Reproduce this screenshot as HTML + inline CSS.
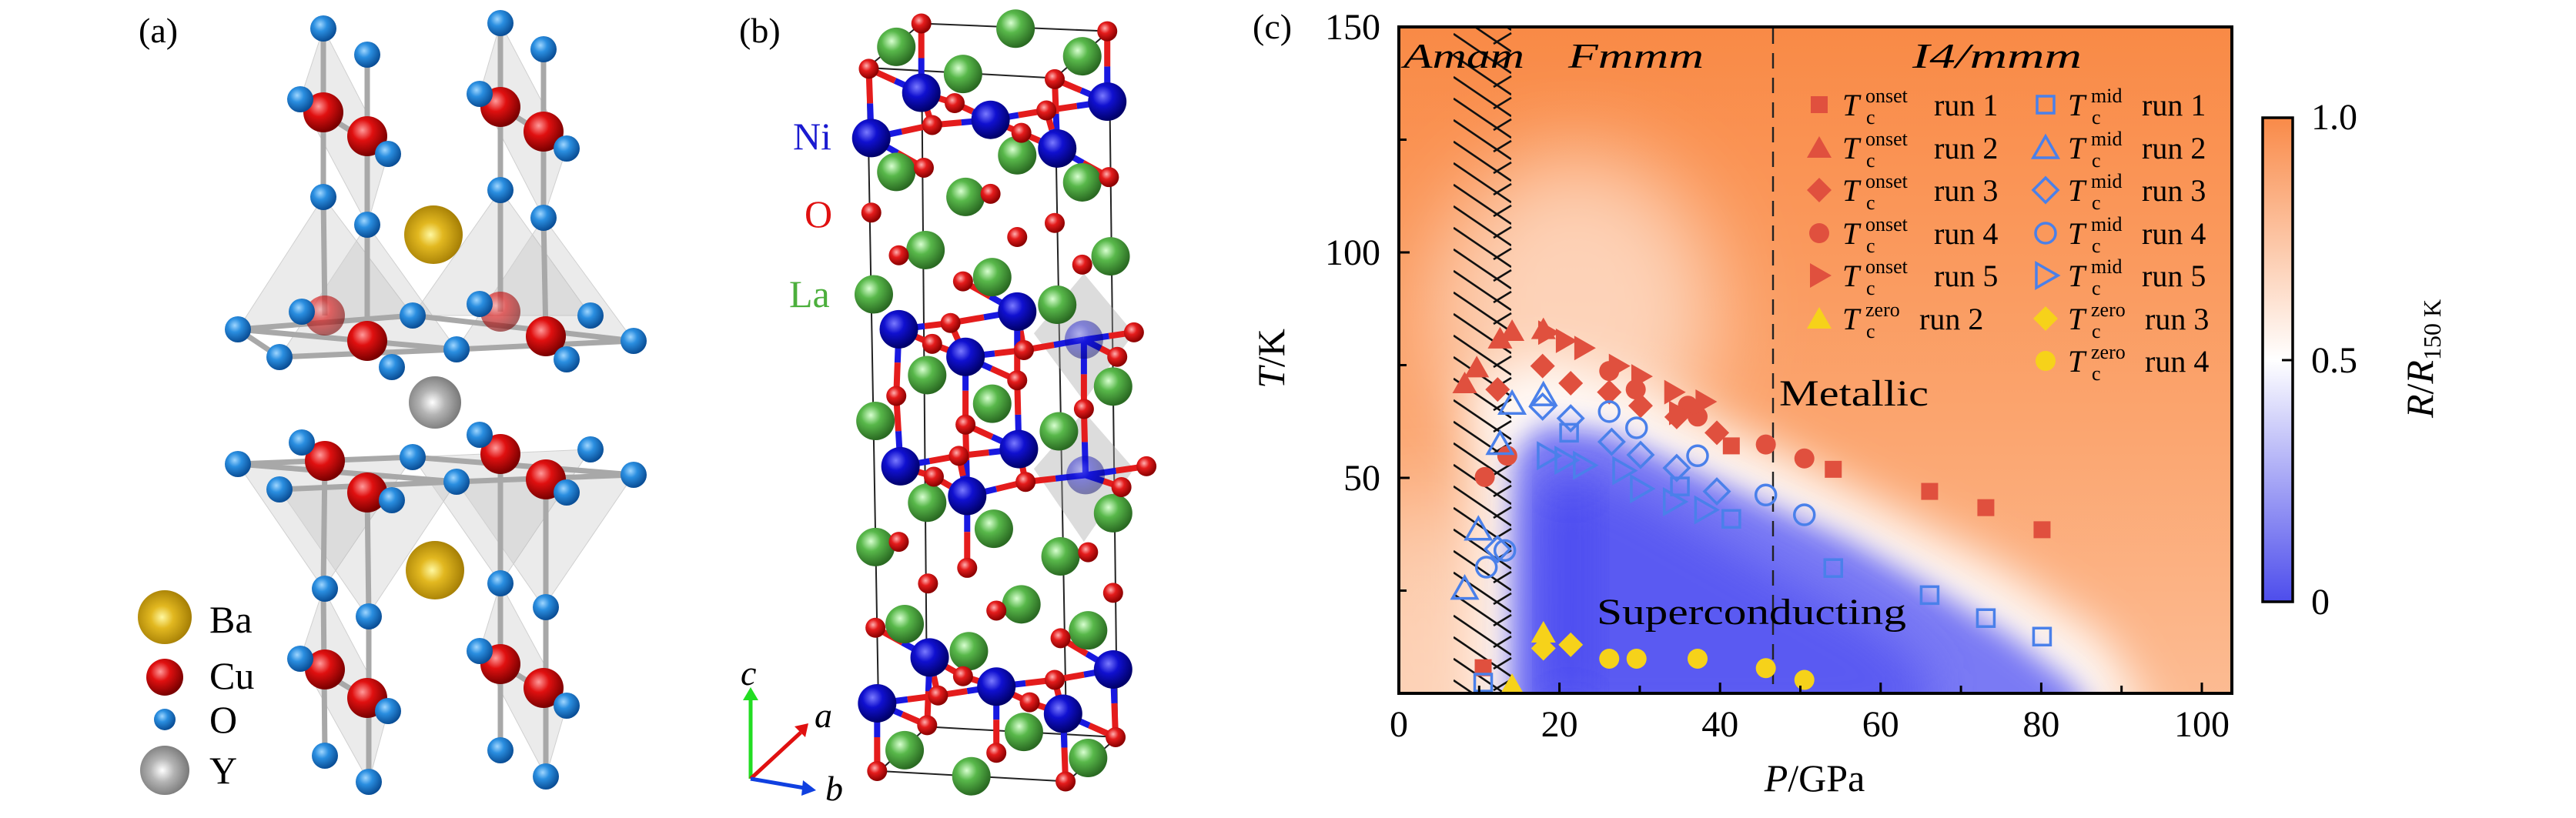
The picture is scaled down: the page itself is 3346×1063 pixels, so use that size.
<!DOCTYPE html>
<html><head><meta charset="utf-8"><style>
html,body{margin:0;padding:0;background:#fff;}
svg{display:block;}
svg text{font-family:"Liberation Serif",serif;}
</style></head><body>
<svg id="s" xmlns="http://www.w3.org/2000/svg" width="3346" height="1063" viewBox="0 0 3346 1063" font-family="Liberation Serif, serif">
<defs>
<linearGradient id="bg" x1="0" y1="0" x2="0" y2="1">
<stop offset="0" stop-color="#f98a46"/><stop offset="0.6" stop-color="#fba56f"/><stop offset="1" stop-color="#fcbb92"/></linearGradient>
<linearGradient id="cb" x1="0" y1="0" x2="0" y2="1">
<stop offset="0" stop-color="#f98a48"/><stop offset="0.5" stop-color="#ffffff"/><stop offset="1" stop-color="#4d4dec"/></linearGradient>
<filter id="b1" x="-50%" y="-50%" width="200%" height="200%"><feGaussianBlur stdDeviation="30"/></filter>
<filter id="b2" x="-50%" y="-50%" width="200%" height="200%"><feGaussianBlur stdDeviation="18"/></filter>
<filter id="b3" x="-50%" y="-50%" width="200%" height="200%"><feGaussianBlur stdDeviation="55"/></filter>
<clipPath id="pc"><rect x="1817" y="35" width="1082" height="866"/></clipPath>
<clipPath id="hc"><rect x="1888" y="35" width="75" height="866"/></clipPath>
<radialGradient id="gO" cx="0.38" cy="0.35" r="0.65"><stop offset="0" stop-color="#9fd6ff"/><stop offset="0.4" stop-color="#2a8ee0"/><stop offset="1" stop-color="#0a4e96"/></radialGradient>
<radialGradient id="gCu" cx="0.38" cy="0.35" r="0.65"><stop offset="0" stop-color="#ff9a9a"/><stop offset="0.4" stop-color="#e01010"/><stop offset="1" stop-color="#7a0000"/></radialGradient>
<radialGradient id="gBa" cx="0.45" cy="0.5" r="0.6"><stop offset="0" stop-color="#fff8a0"/><stop offset="0.35" stop-color="#e2b820"/><stop offset="1" stop-color="#9a7400"/></radialGradient>
<radialGradient id="gY" cx="0.45" cy="0.5" r="0.6"><stop offset="0" stop-color="#ffffff"/><stop offset="0.4" stop-color="#b4b4b4"/><stop offset="1" stop-color="#6e6e6e"/></radialGradient>
<radialGradient id="gNi" cx="0.38" cy="0.35" r="0.65"><stop offset="0" stop-color="#7a7aff"/><stop offset="0.4" stop-color="#1010d0"/><stop offset="1" stop-color="#00006a"/></radialGradient>
<radialGradient id="gLa" cx="0.38" cy="0.35" r="0.65"><stop offset="0" stop-color="#d8ffd0"/><stop offset="0.4" stop-color="#58b84a"/><stop offset="1" stop-color="#2a6a22"/></radialGradient>
<radialGradient id="gOr" cx="0.38" cy="0.35" r="0.65"><stop offset="0" stop-color="#ffb0b0"/><stop offset="0.4" stop-color="#e41c1c"/><stop offset="1" stop-color="#8a0000"/></radialGradient>
</defs>
<g id="pa"></g>
<g id="pb"></g>
<g id="pcg"></g>
</svg>
<script>
var NS="http://www.w3.org/2000/svg";
function el(parent,tag,attrs,txt){var e=document.createElementNS(NS,tag);for(var k in attrs)e.setAttribute(k,attrs[k]);if(tag=='text')e.setAttribute('font-family','Liberation Serif, serif');if(txt!==undefined)e.textContent=txt;parent.appendChild(e);return e;}
/* ---------- Panel (a) ---------- */
var A=document.getElementById('pa');
el(A,'text',{x:180,y:55,'font-size':46},'(a)');
var polys=[
[[420,256],[309,428],[536,410]],[[477,292],[363,464],[593,454]],[[650,247],[536,410],[767,410]],[[706,283],[593,454],[823,443]],
[[420,765],[309,603],[536,594]],[[477,801],[363,636],[593,626]],[[650,758],[536,594],[767,584]],[[706,789],[593,626],[823,617]],
[[390,129],[420,37],[504,200],[477,292]],[[623,122],[650,30],[736,193],[706,283]],
[[390,856],[420,765],[504,924],[479,1016]],[[623,846],[650,758],[736,917],[709,1009]]];
polys.forEach(function(p){el(A,'polygon',{points:p.map(function(q){return q.join(',')}).join(' '),fill:'#b0b0b0','fill-opacity':0.25,stroke:'#d0d0d0','stroke-width':1});});
var rods=[[420,37,420,256],[477,71,477,292],[650,30,650,247],[706,64,706,283],[420,256,422,410],[477,292,477,443],[650,247,650,405],[706,283,709,437],
[309,428,593,454],[363,464,593,454],[536,410,823,443],[593,454,823,443],[309,428,536,410],[363,464,309,428],
[309,603,593,626],[363,636,593,626],[536,594,823,617],[593,626,823,617],[309,603,536,594],
[422,599,420,765],[477,640,479,801],[650,590,650,758],[709,623,709,789],[420,765,422,982],[479,801,479,1016],[650,758,650,975],[709,789,709,1009],
[390,129,504,200],[623,122,736,193],[390,856,504,924],[623,846,736,917]];
rods.forEach(function(r){el(A,'line',{x1:r[0],y1:r[1],x2:r[2],y2:r[3],stroke:'#a8a8a8','stroke-width':7});});
function atom(g,x,y,r,grad,op){el(g,'circle',{cx:x,cy:y,r:r,fill:'url(#'+grad+')','fill-opacity':op||1});}
var Oa=[[420,37],[650,30],[477,71],[706,64],[390,129],[623,122],[504,200],[736,193],[420,256],[650,247],[477,292],[706,283],
[309,428],[363,464],[593,454],[823,443],[536,410],[767,410],[509,477],[736,467],[392,405],[623,395],
[309,603],[363,636],[593,626],[823,617],[536,594],[767,584],[509,650],[736,640],[392,575],[623,565],
[422,765],[650,758],[479,801],[709,789],[390,856],[623,846],[504,924],[736,917],[422,982],[650,975],[479,1016],[709,1009]];
var Cua=[[420,146],[477,177],[650,139],[706,171],[422,410,0.6],[650,405,0.6],[477,443],[709,437],[422,599],[477,640],[650,590],[709,623],[422,870],[477,907],[650,863],[706,894]];
Cua.forEach(function(c){atom(A,c[0],c[1],26,'gCu',c[2]);});
Oa.forEach(function(c){atom(A,c[0],c[1],17,'gO');});
atom(A,563,305,38,'gBa');atom(A,565,523,34,'gY');atom(A,565,741,38,'gBa');
atom(A,214,802,35,'gBa');atom(A,214,880,24,'gCu');atom(A,214,935,14,'gO');atom(A,214,1001,32,'gY');
el(A,'text',{x:272,y:822,'font-size':50},'Ba');el(A,'text',{x:272,y:895,'font-size':50},'Cu');
el(A,'text',{x:272,y:952,'font-size':50},'O');el(A,'text',{x:272,y:1018,'font-size':50},'Y');
/* ---------- Panel (b) ---------- */
var B=document.getElementById('pb');
el(B,'text',{x:960,y:55,'font-size':46},'(b)');
var bx=1.083,by=0.677;
function T(p){return [p[0]*bx,p[1]*by];}
var cell=[[1105,45,1330,60],[1330,60,1265,150],[1265,150,1040,130],[1040,130,1105,45],
[1055,1480,1280,1500],[1280,1500,1340,1415],[1340,1415,1112,1395],[1112,1395,1055,1480],
[1040,130,1055,1480],[1265,150,1280,1500],[1330,60,1340,1415],[1105,45,1112,1395]];
cell.forEach(function(c){el(B,'line',{x1:c[0]*bx,y1:c[1]*by,x2:c[2]*bx,y2:c[3]*by,stroke:'#222','stroke-width':2});});
var oct=[[[1300,525],[1240,640],[1300,770],[1360,640]],[[1300,790],[1240,900],[1300,1040],[1360,900]]];
oct.forEach(function(p){el(B,'polygon',{points:p.map(function(q){return (q[0]*bx)+','+(q[1]*by)}).join(' '),fill:'#a8a8a8','fill-opacity':0.4});});
var Ni=[[1105,178],[1188,230],[1328,195],[1045,265],[1268,285],[1078,632],[1220,598],[1158,685],[1300,652,0.45],[1080,895],[1222,862],[1160,952],[1302,912,0.45],[1115,1262],[1195,1318],[1335,1285],[1052,1350],[1275,1370]];
var La=[[1075,90],[1218,55],[1298,108],[1155,142],[1075,330],[1220,298],[1298,350],[1158,378],[1110,480],[1332,492],[1048,565],[1190,532],[1268,585],[1112,720],[1335,742],[1050,808],[1190,775],[1270,828],[1112,965],[1335,985],[1050,1050],[1192,1015],[1272,1068],[1085,1198],[1225,1160],[1305,1210],[1162,1250],[1085,1440],[1228,1405],[1305,1455],[1165,1490]];
var Ob=[[1105,45],[1328,60],[1042,132],[1265,152],[1145,198],[1255,212],[1118,240],[1225,255],[1108,322],[1330,340],[1188,372],[1045,408],[1265,428],[1220,455],[1078,490],[1298,508],[1155,540],[1140,620],[1360,638],[1118,660],[1228,672],[1340,685],[1075,760],[1300,785],[1220,730],[1158,815],[1150,875],[1375,895],[1120,915],[1230,925],[1345,935],[1078,1040],[1305,1060],[1160,1090],[1113,1120],[1335,1138],[1195,1172],[1050,1205],[1272,1225],[1155,1298],[1265,1305],[1125,1335],[1235,1348],[1112,1392],[1338,1415],[1195,1445],[1052,1480],[1278,1500]];
Ni.forEach(function(n){var a=T(n);Ob.forEach(function(o){var b=T(o);var d=Math.hypot(a[0]-b[0],a[1]-b[1]);if(d<95){var mx=(a[0]+b[0])/2,my=(a[1]+b[1])/2;
el(B,'line',{x1:a[0],y1:a[1],x2:mx,y2:my,stroke:'#1818e0','stroke-width':8});el(B,'line',{x1:mx,y1:my,x2:b[0],y2:b[1],stroke:'#e41c1c','stroke-width':8});}});});
La.forEach(function(c){var p=T(c);atom(B,p[0],p[1],25,'gLa');});
Ob.forEach(function(c){var p=T(c);atom(B,p[0],p[1],13,'gOr');});
Ni.forEach(function(c){var p=T(c);atom(B,p[0],p[1],25,'gNi',c[2]);});
el(B,'text',{x:1030,y:194,'font-size':50,fill:'#1a1ad0'},'Ni');
el(B,'text',{x:1045,y:295,'font-size':50,fill:'#e01010'},'O');
el(B,'text',{x:1025,y:399,'font-size':50,fill:'#4caf3c'},'La');
el(B,'line',{x1:975,y1:1012,x2:975,y2:905,stroke:'#22dd22','stroke-width':5});
el(B,'polygon',{points:'965,910 985,910 975,893',fill:'#22dd22'});
el(B,'line',{x1:975,y1:1012,x2:1040,y2:952,stroke:'#e01010','stroke-width':5});
el(B,'polygon',{points:'1032,944 1046,958 1050,940',fill:'#e01010'});
el(B,'line',{x1:975,y1:1012,x2:1045,y2:1024,stroke:'#1040e0','stroke-width':5});
el(B,'polygon',{points:'1043,1014 1041,1034 1060,1027',fill:'#1040e0'});
el(B,'text',{x:962,y:890,'font-size':46,'font-style':'italic'},'c');
el(B,'text',{x:1058,y:945,'font-size':46,'font-style':'italic'},'a');
el(B,'text',{x:1072,y:1040,'font-size':46,'font-style':'italic'},'b');
/* ---------- Panel (c) ---------- */
var C=document.getElementById('pcg');
function X(P){return 1817+10.43*P;} function Y(t){return 35+(150-t)*5.86;}
function pts(a){return a.map(function(q){return X(q[0])+','+Y(q[1])}).join(' ');}
el(C,'text',{x:1627,y:50,'font-size':46},'(c)');
var pg=el(C,'g',{'clip-path':'url(#pc)'});
el(pg,'rect',{x:1817,y:35,width:1082,height:866,fill:'url(#bg)'});
el(pg,'ellipse',{cx:X(22),cy:Y(88),rx:180,ry:200,fill:'#fff','fill-opacity':0.55,filter:'url(#b3)'});
el(pg,'ellipse',{cx:X(3),cy:Y(15),rx:90,ry:200,fill:'#fff','fill-opacity':0.4,filter:'url(#b3)'});
el(pg,'polygon',{points:pts([[9,72],[18,76],[30,70],[45,58],[60,44],[75,30],[88,14],[94,-5],[9,-5],[9,40]]),fill:'#fff','fill-opacity':0.9,filter:'url(#b1)'});
el(pg,'polygon',{points:pts([[14.5,55],[18,62],[26,60],[36,52],[46,44],[56,36],[66,26],[76,15],[84,4],[87,-5],[14.5,-5]]),fill:'#7a7af4',filter:'url(#b2)'});
el(pg,'polygon',{points:pts([[17,48],[22,52],[30,46],[40,36],[50,26],[60,16],[66,6],[66,-5],[16,-5]]),fill:'#5a5af2',filter:'url(#b1)'});
el(pg,'rect',{x:X(19),y:Y(48),width:50,height:Y(0)-Y(48),fill:'#4848f0',filter:'url(#b1)'});
var hg=el(C,'g',{'clip-path':'url(#hc)'});
for(var y=-40;y<920;y+=28){el(hg,'line',{x1:1888,y1:y,x2:1963,y2:y+51,stroke:'#111','stroke-width':2.6});}
var xg=el(C,'g',{'clip-path':'url(#pc)'});
for(var y=49;y<910;y+=28){el(xg,'line',{x1:1940,y1:y+8,x2:1963,y2:y-6,stroke:'#111','stroke-width':2.6});}
el(C,'line',{x1:2303,y1:37,x2:2303,y2:899,stroke:'#222','stroke-width':2.4,'stroke-dasharray':'20,12'});
var RED='#e0503e',BLU='#4a80ea',YEL='#f6d21a';
function mk(g,type,x,y,col,fill){var a={fill:fill?col:'none',stroke:col,'stroke-width':fill?0:3.5};var s=11;
if(type=='s'){a.x=x-s;a.y=y-s;a.width=2*s;a.height=2*s;el(g,'rect',a);}
else if(type=='t'){a.points=(x-16)+','+(y+13)+' '+(x+16)+','+(y+13)+' '+x+','+(y-15);el(g,'polygon',a);}
else if(type=='d'){a.points=(x-16)+','+y+' '+x+','+(y-16)+' '+(x+16)+','+y+' '+x+','+(y+16);el(g,'polygon',a);}
else if(type=='c'){a.cx=x;a.cy=y;a.r=13;el(g,'circle',a);}
else if(type=='r'){a.points=(x-12)+','+(y-16)+' '+(x-12)+','+(y+16)+' '+(x+16)+','+y;el(g,'polygon',a);}}
var D=[
['s',RED,1,[[10.5,7.9],[41.4,57.1],[54.1,51.9],[66.1,47],[73.1,43.4],[80.1,38.5]]],
['t',RED,1,[[8.2,71],[9.7,74.5],[12.6,80.9],[14.1,82.6],[18,83]]],
['d',RED,1,[[12.3,69.6],[17.9,74.8],[21.4,71],[26.2,69],[30.1,66],[34.6,63.5],[39.6,60]]],
['c',RED,1,[[10.7,50.2],[13.5,54.9],[26.2,73.7],[29.5,69.6],[37.2,63.6],[45.7,57.4],[50.5,54.3],[36,66]]],
['r',RED,1,[[18.5,82.2],[20.7,80.4],[23,78.8],[27.3,74.8],[30.1,72.5],[34.2,69],[38.1,66.9],[34.8,64.4]]],
['s',BLU,0,[[10.5,4.6],[21.2,60],[35,48.1],[41.4,40.9],[54.1,30],[66.1,24],[73.1,18.9],[80.1,14.8]]],
['t',BLU,0,[[8.2,25.5],[9.9,38.6],[12.6,57.6],[14.1,66.5],[18,68.4]]],
['d',BLU,0,[[12.3,34.2],[17.9,65.8],[21.4,63.2],[26.5,58],[30.1,55.1],[34.6,52.2],[39.6,47]]],
['c',BLU,0,[[10.9,30.2],[13.2,33.9],[26.2,64.7],[29.6,61.1],[37.2,54.9],[45.7,46.2],[50.5,41.8]]],
['r',BLU,0,[[18.5,54.9],[20.7,53.9],[23,52.8],[27.9,51.6],[30.1,47.6],[34.2,44.7],[38.1,42.9]]],
['t',YEL,1,[[14.1,4.1],[18,15.7]]],
['d',YEL,1,[[18,12.2],[21.4,13]]],
['c',YEL,1,[[26.2,9.9],[29.6,9.9],[37.2,9.9],[45.7,7.8],[50.5,5.2]]]];
var mg=el(C,'g',{'clip-path':'url(#pc)'});
D.forEach(function(s){s[3].forEach(function(p){mk(mg,s[0],X(p[0]),Y(p[1]),s[1],s[2]);});});
el(C,'text',{x:1823,y:88,'font-size':46,'font-style':'italic',textLength:157,lengthAdjust:'spacingAndGlyphs'},'Amam');
el(C,'text',{x:2037,y:88,'font-size':46,'font-style':'italic',textLength:176,lengthAdjust:'spacingAndGlyphs'},'Fmmm');
el(C,'text',{x:2484,y:88,'font-size':46,'font-style':'italic',textLength:220,lengthAdjust:'spacingAndGlyphs'},'I4/mmm');
el(C,'text',{x:2311,y:527,'font-size':48,textLength:194,lengthAdjust:'spacingAndGlyphs'},'Metallic');
el(C,'text',{x:2074,y:811,'font-size':48,textLength:402,lengthAdjust:'spacingAndGlyphs'},'Superconducting');
var rows=[136,192,247,303,358,414,469];
var L1=[['s','onset','1',RED,1],['t','onset','2',RED,1],['d','onset','3',RED,1],['c','onset','4',RED,1],['r','onset','5',RED,1],['t','zero','2',YEL,1]];
var L2=[['s','mid','1',BLU,0],['t','mid','2',BLU,0],['d','mid','3',BLU,0],['c','mid','4',BLU,0],['r','mid','5',BLU,0],['d','zero','3',YEL,1],['c','zero','4',YEL,1]];
function leg(list,mx,tx,rx){list.forEach(function(l,i){var y=rows[i];mk(C,l[0],mx,y,l[3],l[4]);
el(C,'text',{x:tx,y:y+14,'font-size':40,'font-style':'italic'},'T');
el(C,'text',{x:tx+30,y:y-3,'font-size':26},l[1]);
el(C,'text',{x:tx+31,y:y+25,'font-size':26},'c');
el(C,'text',{x:(l[1]=='zero'?(mx>2600?2786:2493):rx),y:y+14,'font-size':40},'run '+l[2]);});}
leg(L1,2363,2393,2512);leg(L2,2657,2686,2782);
el(C,'rect',{x:1817,y:35,width:1082,height:866,fill:'none',stroke:'#000','stroke-width':4});
for(var P=10;P<=100;P+=10){var len=(P%20==0)?14:10;el(C,'line',{x1:X(P),y1:901,x2:X(P),y2:901-len,stroke:'#000','stroke-width':3});}
for(var t=25;t<150;t+=25){var len=(t%50==0)?14:10;el(C,'line',{x1:1817,y1:Y(t),x2:1817+len,y2:Y(t),stroke:'#000','stroke-width':3});}
[0,20,40,60,80,100].forEach(function(P){el(C,'text',{x:X(P),y:957,'font-size':48,'text-anchor':'middle'},String(P));});
[[150,51],[100,344],[50,637]].forEach(function(a){el(C,'text',{x:1793,y:a[1],'font-size':48,'text-anchor':'end'},String(a[0]));});
var xt=el(C,'text',{x:2357,y:1028,'font-size':50,'text-anchor':'middle'});
el(xt,'tspan',{'font-style':'italic'},'P');el(xt,'tspan',{},'/GPa');
var yt=el(C,'text',{x:0,y:0,'font-size':50,'text-anchor':'middle',transform:'translate(1668,466) rotate(-90)'});
el(yt,'tspan',{'font-style':'italic'},'T');el(yt,'tspan',{},'/K');
el(C,'rect',{x:2939,y:153,width:39,height:629,fill:'url(#cb)',stroke:'#000','stroke-width':3.5});
el(C,'line',{x1:2964,y1:468,x2:2978,y2:468,stroke:'#000','stroke-width':3});
el(C,'text',{x:3002,y:168,'font-size':48},'1.0');
el(C,'text',{x:3002,y:484,'font-size':48},'0.5');
el(C,'text',{x:3002,y:798,'font-size':48},'0');
var ct=el(C,'text',{x:0,y:0,'font-size':50,'text-anchor':'middle',transform:'translate(3160,466) rotate(-90)'});
el(ct,'tspan',{'font-style':'italic'},'R');el(ct,'tspan',{},'/');el(ct,'tspan',{'font-style':'italic'},'R');
el(ct,'tspan',{'font-size':32,dy:10},'150 K');
</script>
</body></html>
